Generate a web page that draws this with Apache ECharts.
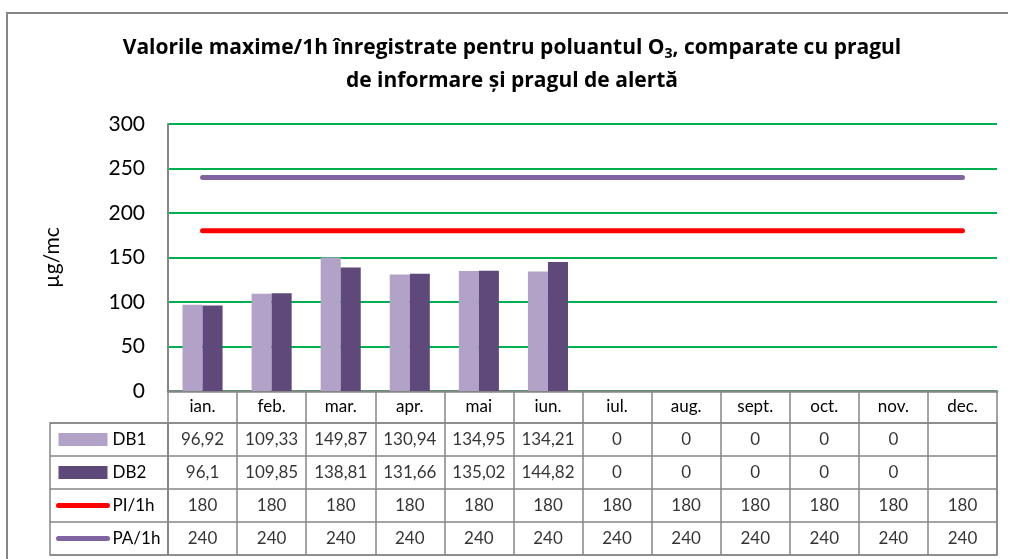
<!DOCTYPE html>
<html>
<head>
<meta charset="utf-8">
<script src="https://cdn.jsdelivr.net/npm/echarts@6/dist/echarts.min.js"></script>
<style>html,body{margin:0;padding:0;background:#fff}#c{width:1009px;height:559px}</style>
</head>
<body>
<div id="c"></div>
<script>
// ---- data ----
const months = ['ian.', 'feb.', 'mar.', 'apr.', 'mai', 'iun.', 'iul.', 'aug.', 'sept.', 'oct.', 'nov.', 'dec.'];
const db1 = [96.92, 109.33, 149.87, 130.94, 134.95, 134.21, 0, 0, 0, 0, 0, null];
const db2 = [96.1, 109.85, 138.81, 131.66, 135.02, 144.82, 0, 0, 0, 0, 0, null];
const pi1h = [180, 180, 180, 180, 180, 180, 180, 180, 180, 180, 180, 180];
const pa1h = [240, 240, 240, 240, 240, 240, 240, 240, 240, 240, 240, 240];
const seriesNames = ['DB1', 'DB2', 'PI/1h', 'PA/1h'];
const yTicks = [0, 50, 100, 150, 200, 250, 300];

const FONT = 'Lato, "Open Sans", sans-serif';
const TFONT = '"Open Sans", Lato, sans-serif';
const GRAY = '#868686';
const colors = { 'DB1': '#B2A2C7', 'DB2': '#5F497A', 'PI/1h': '#FF0000', 'PA/1h': '#8064A2' };

// table cells built from the series arrays
const rows = [db1, db2, pi1h, pa1h];
const tableData = [];
rows.forEach((arr, r) => arr.forEach((v, i) => {
  if (v !== null && v !== undefined) tableData.push([months[i], seriesNames[r], v]);
}));

const chart = echarts.init(document.getElementById('c'), null, { renderer: 'canvas' });
chart.setOption({
  animation: false,
  backgroundColor: '#fff',
  textStyle: { fontFamily: FONT },
  title: {
    text: 'Valorile maxime/1h înregistrate pentru poluantul O{s|3}, comparate cu pragul\nde informare și pragul de alertă',
    left: 512,
    textAlign: 'center',
    top: 32,
    padding: 0,
    textStyle: {
      fontFamily: TFONT, fontSize: 21, fontWeight: 'bold', color: '#000', lineHeight: 33,
      rich: { s: { fontFamily: TFONT, fontSize: 14, fontWeight: 'bold', color: '#000', padding: [12, 0, 0, 0] } }
    }
  },
  legend: {
    orient: 'vertical',
    left: 56,
    top: 431,
    padding: 0,
    itemWidth: 49,
    itemHeight: 13,
    itemGap: 16,
    selectedMode: false,
    textStyle: { fontFamily: FONT, fontSize: 17, color: '#000' },
    data: [
      { name: 'DB1', icon: 'rect' },
      { name: 'DB2', icon: 'rect' },
      { name: 'PI/1h', itemStyle: { color: 'transparent', borderColor: 'transparent', borderWidth: 0 }, lineStyle: { width: 5, cap: 'round' } },
      { name: 'PA/1h', itemStyle: { color: 'transparent', borderColor: 'transparent', borderWidth: 0 }, lineStyle: { width: 5, cap: 'round' } }
    ]
  },
  graphic: [
    { type: 'polyline', shape: { points: [[7, 559], [7, 13], [1008, 13]] }, style: { stroke: GRAY, lineWidth: 2, fill: null }, silent: true }
  ],
  grid: [
    { left: 168, right: 12, top: 124, bottom: 168 },
    { left: 168, right: 12, top: 423, bottom: 4, show: true, borderColor: GRAY, borderWidth: 1.5, backgroundColor: 'transparent' },
    { left: 50, right: 841, top: 423, bottom: 4, show: true, borderColor: GRAY, borderWidth: 1.5, backgroundColor: 'transparent' }
  ],
  xAxis: [
    {
      gridIndex: 0, type: 'category', data: months,
      axisLine: { lineStyle: { color: GRAY, width: 2.5 } },
      axisTick: { show: true, length: 32, lineStyle: { color: GRAY, width: 1.5 } },
      axisLabel: { fontFamily: FONT, fontSize: 17, color: '#000', margin: 7, interval: 0 },
      splitLine: { show: false }
    },
    {
      gridIndex: 1, type: 'category', data: months,
      axisLine: { show: false }, axisTick: { show: false }, axisLabel: { show: false },
      splitLine: { show: true, interval: 0, lineStyle: { color: GRAY, width: 1.5 } }
    },
    { gridIndex: 2, type: 'value', show: false, min: 0, max: 1 }
  ],
  yAxis: [
    {
      gridIndex: 0, type: 'value', min: 0, max: 300, interval: 50,
      axisLine: { show: true, lineStyle: { color: GRAY, width: 2 } },
      axisTick: { show: false },
      axisLabel: { fontFamily: FONT, fontSize: 21, color: '#000', margin: 23,
        customValues: yTicks },
      splitLine: { show: true, lineStyle: { color: '#00B050', width: 2 } },
      name: 'µg/mc', nameLocation: 'middle', nameGap: 105, nameRotate: 90,
      nameTextStyle: { fontFamily: FONT, fontSize: 21, color: '#000' }
    },
    {
      gridIndex: 1, type: 'category', data: seriesNames, inverse: true,
      axisLine: { show: false }, axisTick: { show: false }, axisLabel: { show: false },
      splitLine: { show: true, interval: 0, lineStyle: { color: GRAY, width: 1.5 } }
    },
    {
      gridIndex: 2, type: 'category', data: seriesNames, inverse: true,
      axisLine: { show: false }, axisTick: { show: false }, axisLabel: { show: false },
      splitLine: { show: true, interval: 0, lineStyle: { color: GRAY, width: 1.5 } }
    }
  ],
  series: [
    { name: 'DB1', type: 'bar', xAxisIndex: 0, yAxisIndex: 0, data: db1, barGap: '0%', barCategoryGap: '42%',
      itemStyle: { color: colors['DB1'] } },
    { name: 'DB2', type: 'bar', xAxisIndex: 0, yAxisIndex: 0, data: db2, barGap: '0%', barCategoryGap: '42%',
      itemStyle: { color: colors['DB2'] } },
    { name: 'PI/1h', type: 'line', xAxisIndex: 0, yAxisIndex: 0, data: pi1h, symbol: 'none', z: 5,
      itemStyle: { color: colors['PI/1h'] }, lineStyle: { color: colors['PI/1h'], width: 5, cap: 'round' } },
    { name: 'PA/1h', type: 'line', xAxisIndex: 0, yAxisIndex: 0, data: pa1h, symbol: 'none', z: 5,
      itemStyle: { color: colors['PA/1h'] }, lineStyle: { color: colors['PA/1h'], width: 5, cap: 'round' } },
    { name: 'table', type: 'scatter', xAxisIndex: 1, yAxisIndex: 1, data: tableData,
      symbolSize: 1, itemStyle: { color: 'transparent' }, silent: true,
      label: { show: true, position: 'inside', fontFamily: FONT, fontSize: 17, color: '#000',
        formatter: p => String(p.value[2]).replace('.', ',') } }
  ]
});
</script>
</body>
</html>
